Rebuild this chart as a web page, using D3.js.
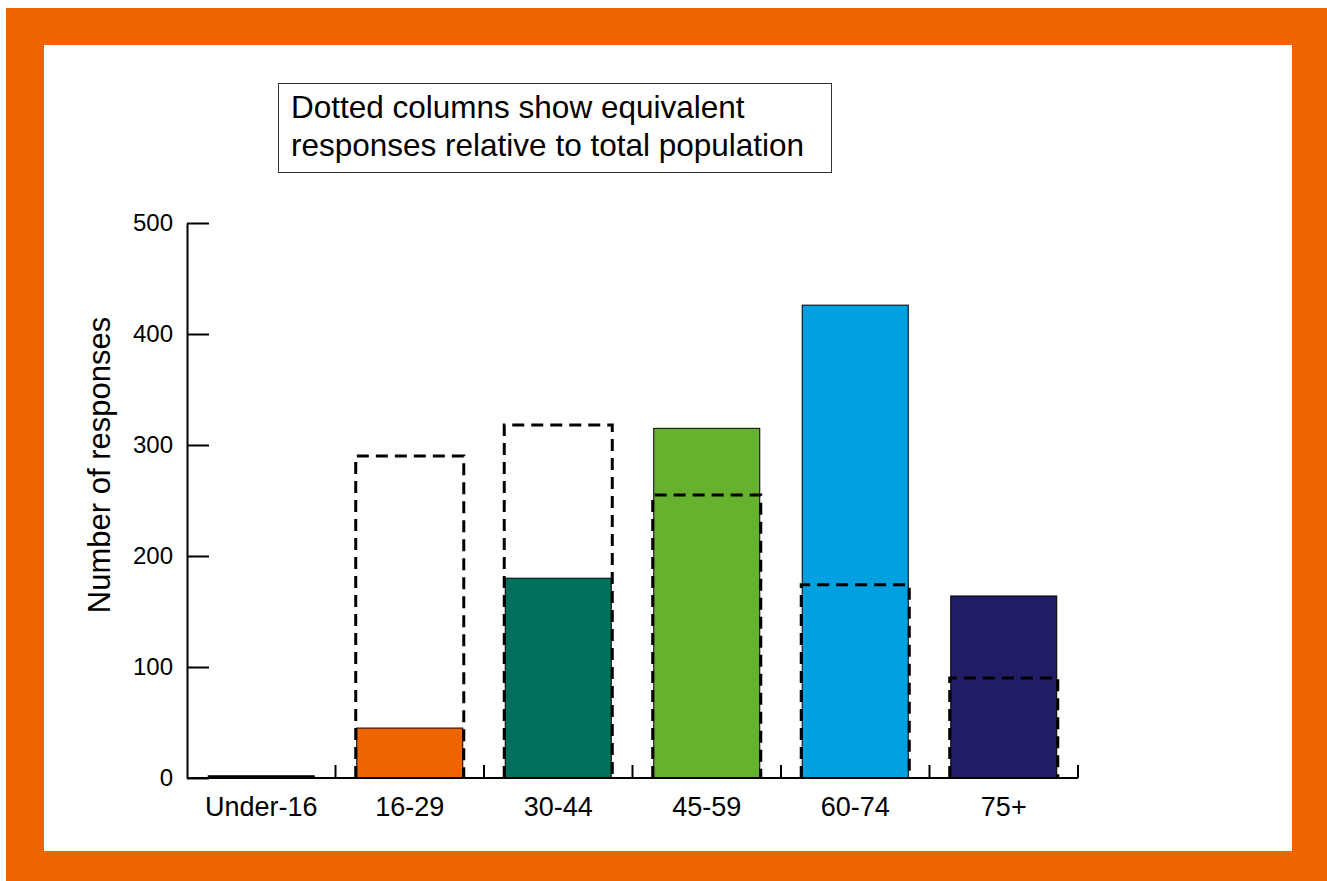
<!DOCTYPE html>
<html>
<head>
<meta charset="utf-8">
<script src="https://cdn.jsdelivr.net/npm/d3@7"></script>
<style>
  html, body { margin: 0; padding: 0; background: #fff; }
  svg { display: block; }
  text { font-family: "Liberation Sans", Arial, Helvetica, sans-serif; fill: #000; }
</style>
</head>
<body>
<svg id="chart" width="1327" height="881"></svg>
<script>
// Age groups of respondents
const categories = ["Under-16", "16-29", "30-44", "45-59", "60-74", "75+"];
// Number of responses received per age group
const responses = [2, 45, 180, 315, 426, 164];
// Responses each group would give in proportion to the total population (dotted columns)
const populationEquivalent = [null, 290, 318, 255, 174, 90];
const barColors = ["#000000", "#EE6400", "#00705A", "#66B22E", "#00A0E1", "#201C66"];
const yTicks = [0, 100, 200, 300, 400, 500];
const noteLines = ["Dotted columns show equivalent", "responses relative to total population"];
const yTitle = "Number of responses";

const svg = d3.select("#chart");
const W = 1327, H = 881;

// Orange frame with white panel
svg.append("rect").attr("x", 0).attr("y", 0).attr("width", W).attr("height", H).attr("fill", "#fff");
svg.append("rect").attr("x", 6).attr("y", 8).attr("width", W - 6).attr("height", H - 8).attr("fill", "#EE6500");
svg.append("rect").attr("x", 44).attr("y", 45).attr("width", 1248).attr("height", 806).attr("fill", "#fff");

const plot = { left: 187, right: 1078, top: 223, bottom: 778 };

const x = d3.scaleBand()
  .domain(categories)
  .range([plot.left, plot.right])
  .paddingInner(0.286)
  .paddingOuter(0.143);

const y = d3.scaleLinear()
  .domain([0, 500])
  .range([plot.bottom, plot.top]);

const step = (plot.right - plot.left) / categories.length;
const slotStart = d => plot.left + categories.indexOf(d) * step;

// Solid columns: actual responses
svg.append("g").selectAll("rect")
  .data(categories)
  .join("rect")
  .attr("x", d => x(d))
  .attr("width", x.bandwidth())
  .attr("y", (d, i) => y(responses[i]))
  .attr("height", (d, i) => y(0) - y(responses[i]))
  .attr("fill", (d, i) => barColors[i])
  .attr("stroke", "#000")
  .attr("stroke-width", 1);

// Dotted columns: population-equivalent responses (open at the base)
svg.append("g").selectAll("path")
  .data(categories.filter((d, i) => populationEquivalent[i] != null))
  .join("path")
  .attr("d", d => {
    const v = populationEquivalent[categories.indexOf(d)];
    const x0 = x(d) - 1, x1 = x(d) + x.bandwidth() + 1;
    return `M${x0},${y(0)}V${y(v)}H${x1}V${y(0)}`;
  })
  .attr("fill", "none")
  .attr("stroke", "#000")
  .attr("stroke-width", 3)
  .attr("stroke-dasharray", "12,7");

// Y axis with inward ticks
const yAxis = svg.append("g")
  .attr("transform", `translate(${plot.left},0)`)
  .call(d3.axisLeft(y).tickValues(yTicks).tickSizeInner(-22).tickSizeOuter(0).tickPadding(14));
yAxis.select(".domain").attr("stroke", "#000").attr("stroke-width", 2);
yAxis.selectAll(".tick line").attr("stroke", "#000").attr("stroke-width", 2);
yAxis.selectAll(".tick text")
  .style("font-family", "'Liberation Sans', Arial, sans-serif")
  .style("font-size", "24px")
  .attr("fill", "#000");

// X axis: baseline, slot boundary ticks, and centred group labels
const xAxis = svg.append("g")
  .attr("transform", `translate(0,${plot.bottom})`)
  .call(d3.axisBottom(x).tickSize(0).tickPadding(19));
xAxis.select(".domain").attr("stroke", "#000").attr("stroke-width", 2)
  .attr("d", `M${plot.left},0H${plot.right}`);
xAxis.selectAll(".tick text")
  .style("font-family", "'Liberation Sans', Arial, sans-serif")
  .style("font-size", "27px")
  .attr("fill", "#000");
svg.append("g").selectAll("line")
  .data(categories)
  .join("line")
  .attr("x1", d => slotStart(d) + step)
  .attr("x2", d => slotStart(d) + step)
  .attr("y1", plot.bottom)
  .attr("y2", plot.bottom - 13)
  .attr("stroke", "#000")
  .attr("stroke-width", 2);

// Y axis title
svg.append("text")
  .attr("transform", `translate(110,465) rotate(-90)`)
  .attr("text-anchor", "middle")
  .style("font-size", "31px")
  .text(yTitle);

// Explanatory note box
svg.append("rect")
  .attr("x", 278.5).attr("y", 83.5).attr("width", 553).attr("height", 89)
  .attr("fill", "#fff").attr("stroke", "#333").attr("stroke-width", 1);
svg.append("g").selectAll("text")
  .data(noteLines)
  .join("text")
  .attr("x", 291)
  .attr("y", (d, i) => 118 + i * 38)
  .style("font-size", "31.5px")
  .text(d => d);
</script>
</body>
</html>
